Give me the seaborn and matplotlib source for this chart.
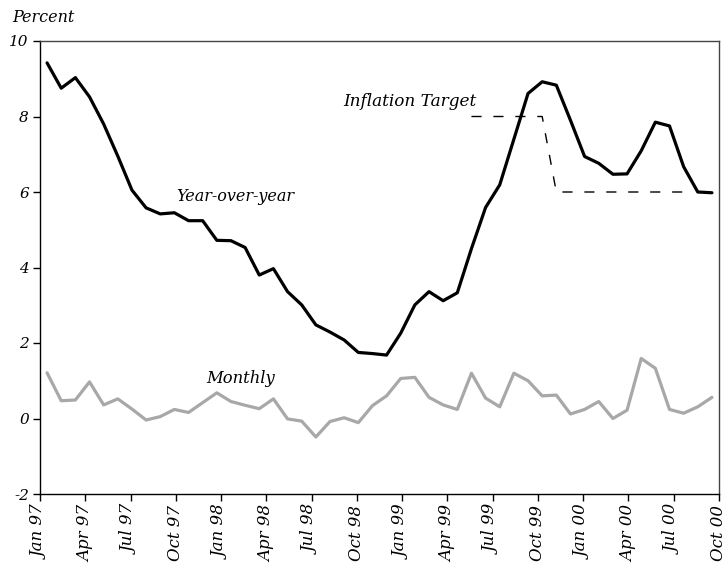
import numpy as np
import pandas as pd
import matplotlib
matplotlib.use("Agg")
import matplotlib.pyplot as plt
import seaborn as sns

nan = np.nan

# Year-over-year inflation (percent), monthly observations
year_over_year = [9.42, 8.75, 9.03, 8.52, 7.80, 6.95, 6.05, 5.58, 5.42, 5.45,
                  5.24, 5.24, 4.72, 4.71, 4.53, 3.80, 3.97, 3.36, 3.01, 2.48,
                  2.29, 2.08, 1.75, 1.72, 1.68, 2.26, 3.01, 3.36, 3.12, 3.33,
                  4.50, 5.59, 6.19, 7.40, 8.61, 8.92, 8.83, 7.90, 6.94, 6.76,
                  6.47, 6.48, 7.09, 7.85, 7.75, 6.67, 6.00, 5.98]

# Monthly inflation (percent)
monthly = [1.21, 0.47, 0.49, 0.97, 0.36, 0.52, 0.25, -0.04, 0.05, 0.24,
           0.16, 0.42, 0.68, 0.45, 0.35, 0.26, 0.52, -0.01, -0.07, -0.49,
           -0.08, 0.02, -0.11, 0.34, 0.60, 1.06, 1.09, 0.56, 0.36, 0.24,
           1.20, 0.54, 0.31, 1.20, 1.00, 0.60, 0.62, 0.12, 0.24, 0.45,
           0.00, 0.22, 1.59, 1.33, 0.24, 0.14, 0.31, 0.56]

# Inflation target (percent)
inflation_target = [nan] * 30 + [8.0] * 6 + [6.0] * 10 + [nan] * 2

tick_labels = ["Jan 97", "Apr 97", "Jul 97", "Oct 97", "Jan 98", "Apr 98",
               "Jul 98", "Oct 98", "Jan 99", "Apr 99", "Jul 99", "Oct 99",
               "Jan 00", "Apr 00", "Jul 00", "Oct 00"]
y_ticks = [-2, 0, 2, 4, 6, 8, 10]

sns.set_theme(style="white")
plt.rcParams["font.family"] = ["DejaVu Serif"]
plt.rcParams["font.style"] = "italic"
plt.rcParams["text.color"] = "black"
plt.rcParams["xtick.color"] = "black"
plt.rcParams["ytick.color"] = "black"

n = len(monthly)
df = pd.DataFrame({
    "idx": np.arange(n),
    "yoy": year_over_year,
    "monthly": monthly,
    "target": inflation_target,
})

fig = plt.figure(figsize=(7.26, 5.63), dpi=100)
ax = fig.add_axes([40 / 726, 1 - 494 / 563, 679 / 726, 453 / 563])

sns.lineplot(data=df, x="idx", y="monthly", color="#a8a8a8", lw=2.3, ax=ax)
sns.lineplot(data=df, x="idx", y="yoy", color="black", lw=2.3, ax=ax)
sns.lineplot(data=df, x="idx", y="target", color="black", lw=1.0,
             linestyle=(0, (7.3, 8.5)), ax=ax)

ax.set_xlim(-0.5, n - 0.5)
ax.set_ylim(-2, 10)
step = n / (len(tick_labels) - 1)
ax.set_xticks([-0.5 + step * k for k in range(len(tick_labels))])
ax.set_xticklabels(tick_labels, rotation=90, fontsize=12, style="italic",
                   color="black")
ax.set_yticks(y_ticks)
ax.set_yticklabels([str(v) for v in y_ticks], fontsize=11, style="italic",
                   color="black")
ax.set_xlabel("")
ax.set_ylabel("")

ax.tick_params(axis="both", which="major", bottom=True, left=True,
               direction="out", length=5, width=1, color="black",
               labelcolor="black", pad=3)
for side in ["left", "bottom", "top", "right"]:
    ax.spines[side].set_visible(True)
    ax.spines[side].set_linewidth(1.0)
ax.spines["left"].set_color("black")
ax.spines["bottom"].set_color("black")
ax.spines["top"].set_color("#444444")
ax.spines["right"].set_color("#444444")
ax.grid(False)

ax.text(20.97, 8.41, "Inflation Target", fontsize=12.2, style="italic",
        ha="left", va="center", color="black")
ax.text(9.15, 5.89, "Year-over-year", fontsize=11.5, style="italic",
        ha="left", va="center", color="black")
ax.text(11.27, 1.07, "Monthly", fontsize=11.8, style="italic",
        ha="left", va="center", color="black")
fig.text(12 / 726, 1 - 17 / 563, "Percent", fontsize=11.5, style="italic",
         ha="left", va="center", color="black")

fig.savefig("out.png", dpi=100)
